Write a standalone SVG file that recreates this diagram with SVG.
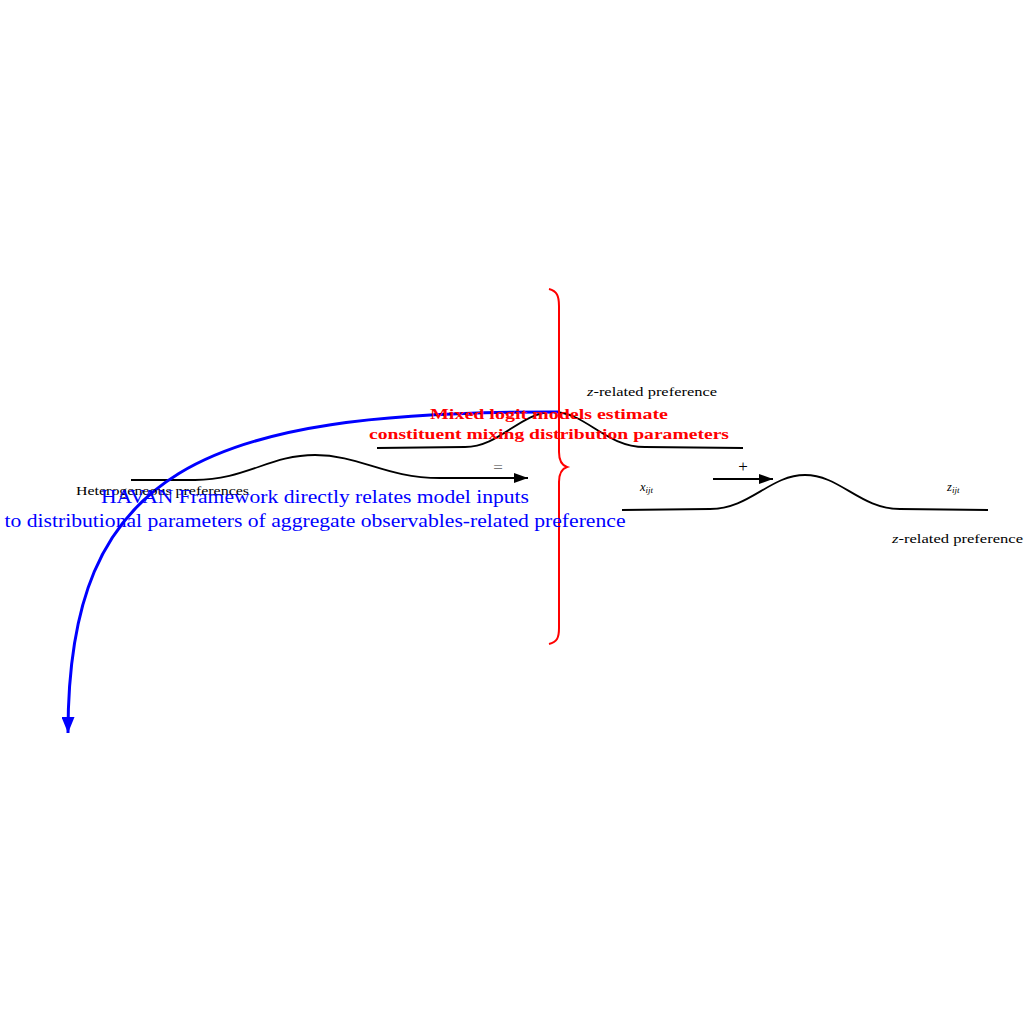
<svg xmlns="http://www.w3.org/2000/svg" width="1024" height="1024" viewBox="0 0 1024 1024">
<defs>
<marker id="ahBlack" markerWidth="14" markerHeight="10" refX="14" refY="5" orient="auto" markerUnits="userSpaceOnUse"><path d="M0,0 L14,5 L0,10 Z" fill="#000"/></marker>
<marker id="ahBlue" markerWidth="16" markerHeight="13" refX="16" refY="6.5" orient="auto" markerUnits="userSpaceOnUse"><path d="M0,0 L16,6.5 L0,13 Z" fill="#0000ff"/></marker>
<style>
.curve{fill:none;stroke:#000;stroke-width:1.8}
.lbl{font-family:"Liberation Serif","DejaVu Serif",serif;fill:#000;font-size:12.5px}
.op{font-family:"Liberation Serif","DejaVu Serif",serif;font-size:17px;text-anchor:middle}
.math{font-family:"Liberation Serif","DejaVu Serif",serif;font-style:italic;fill:#000;font-size:12.5px}
.red{font-family:"Liberation Serif","DejaVu Serif",serif;font-weight:bold;fill:#ff0000;font-size:15px;text-anchor:middle}
.blue{font-family:"Liberation Serif","DejaVu Serif",serif;fill:#0000ff;font-size:19px;text-anchor:middle}
</style>
</defs>
<rect width="1024" height="1024" fill="#fff"/>
<g id="connectors">
<path class="curve" d="M131,480 L195,480 C245,480 270,455 315,455 C360,455 385,478 440,478 L528,478" marker-end="url(#ahBlack)"/>
<path class="curve" d="M377,448 L465,447 C500,447 520,412 553,412 C586,412 605,447 645,447 L743,448"/>
<path class="curve" d="M622,510 L710,509 C750,509 770,475 805,475 C840,475 860,509 900,509 L988,510"/>
<path class="curve" stroke-width="2.6" d="M713,479 L773,479" marker-end="url(#ahBlack)"/>
<path fill="none" stroke="#0000ff" stroke-width="3" d="M559,412 C200,411 68,470 68,733" marker-end="url(#ahBlue)"/>
</g>
<g id="brace">
<path fill="none" stroke="#ff0000" stroke-width="2" d="M549,289 C557,291 559,296 559,306 L559,452 C559,460 561,465 567,467 C561,469 559,474 559,482 L559,628 C559,638 557,642 549,644"/>
</g>
<g id="labels">
<text class="lbl" x="587" y="396" textLength="130" lengthAdjust="spacingAndGlyphs"><tspan font-style="italic">z</tspan>-related preference</text>
<text class="lbl" x="892" y="543" textLength="131" lengthAdjust="spacingAndGlyphs"><tspan font-style="italic">z</tspan>-related preference</text>
<text class="lbl" x="76" y="495" textLength="173" lengthAdjust="spacingAndGlyphs">Heterogeneous preferences</text>
<text class="math" x="640" y="491">x<tspan style="font-size:9px" dy="2">ijt</tspan></text>
<text class="math" x="947" y="491">z<tspan style="font-size:9px" dy="2">ijt</tspan></text>
<text class="op" x="498" y="473" fill="#777">=</text>
<text class="op" x="743" y="472" fill="#000">+</text>
</g>
<g id="red-note">
<text class="red" x="549" y="419" textLength="238" lengthAdjust="spacingAndGlyphs">Mixed logit models estimate</text>
<text class="red" x="549" y="439" textLength="360" lengthAdjust="spacingAndGlyphs">constituent mixing distribution parameters</text>
</g>
<g id="blue-note">
<text class="blue" x="315" y="503" textLength="428" lengthAdjust="spacingAndGlyphs">HAVAN Framework directly relates model inputs</text>
<text class="blue" x="315" y="527" textLength="621" lengthAdjust="spacingAndGlyphs">to distributional parameters of aggregate observables-related preference</text>
</g>
</svg>
